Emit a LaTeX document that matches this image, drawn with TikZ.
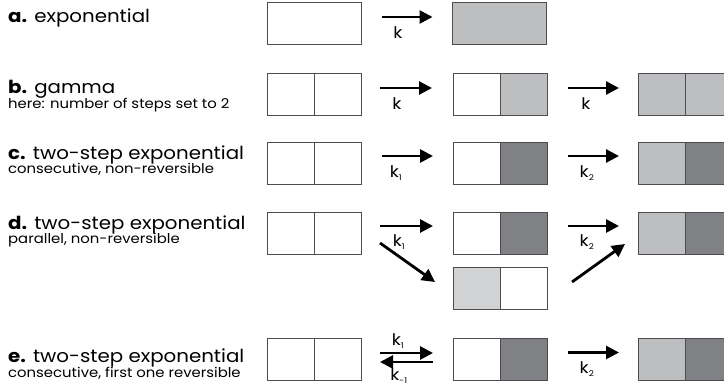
\documentclass[tikz,border=0pt]{standalone}
\usepackage{fontspec}
\setmainfont{Poppins}[FakeStretch=1.1]
\usetikzlibrary{arrows.meta}
\definecolor{bord}{HTML}{4D4D4F}
\definecolor{lg}{HTML}{BDBEC0}
\definecolor{dg}{HTML}{808184}
\definecolor{vlg}{HTML}{D1D3D4}
\begin{document}
\begin{tikzpicture}[x=1pt,y=-1pt,
  half/.style={draw=bord,line width=1pt,minimum width=47pt,minimum height=42pt,inner sep=0pt,outer sep=0pt},
  full/.style={half,minimum width=94pt},
  arr/.style={line width=2.8pt,-{Triangle[length=13pt,width=13pt]}},
  ttl/.style={anchor=base west,inner sep=0pt,font=\fontsize{18}{18}\selectfont},
  sub/.style={anchor=base west,inner sep=0pt,font=\fontsize{13.5}{13.5}\selectfont},
  klab/.style={inner sep=0pt,font=\fontsize{16}{16}\selectfont}]
\useasboundingbox (0,0) rectangle (724,388);
% texts
\node[ttl] (ta) at (8,22) {\textbf{a.} exponential};
\node[ttl] (tb) at (8,93) {\textbf{b.} gamma};
\node[sub] (sb) at (8,108) {here: number of steps set to 2};
\node[ttl] (tc) at (8,159) {\textbf{c.} two-step exponential};
\node[sub] (sc) at (8,173) {consecutive, non-reversible};
\node[ttl] (td) at (8,229) {\textbf{d.} two-step exponential};
\node[sub] (sd) at (8,243) {parallel, non-reversible};
\node[ttl] (te) at (8,362) {\textbf{e.} two-step exponential};
\node[sub] (se) at (8,377) {consecutive, first one reversible};
% row a
\node[full] (aL) at (314,23.5) {};
\node[full,fill=lg] (aM) at (499.5,23.5) {};
% row b
\node[half] (bL1) at (290.5,94) {};
\node[half] (bL2) at (337.5,94) {};
\node[half] (bM1) at (476.5,94) {};
\node[half,fill=lg] (bM2) at (523.5,94) {};
\node[half,fill=lg] (bR1) at (661.5,94) {};
\node[half,fill=lg] (bR2) at (708.5,94) {};
% row c
\node[half] (cL1) at (290.5,163.5) {};
\node[half] (cL2) at (337.5,163.5) {};
\node[half] (cM1) at (476.5,163.5) {};
\node[half,fill=dg] (cM2) at (523.5,163.5) {};
\node[half,fill=lg] (cR1) at (661.5,163.5) {};
\node[half,fill=dg] (cR2) at (708.5,163.5) {};
% row d
\node[half] (dL1) at (290.5,233) {};
\node[half] (dL2) at (337.5,233) {};
\node[half] (dM1) at (476.5,233) {};
\node[half,fill=dg] (dM2) at (523.5,233) {};
\node[half,fill=lg] (dR1) at (661.5,233) {};
\node[half,fill=dg] (dR2) at (708.5,233) {};
\node[half,fill=vlg] (dN1) at (476.5,288.5) {};
\node[half] (dN2) at (523.5,288.5) {};
% row e
\node[half] (eL1) at (290.5,359.5) {};
\node[half] (eL2) at (337.5,359.5) {};
\node[half] (eM1) at (476.5,359.5) {};
\node[half,fill=dg] (eM2) at (523.5,359.5) {};
\node[half,fill=lg] (eR1) at (661.5,359.5) {};
\node[half,fill=dg] (eR2) at (708.5,359.5) {};
% arrows
\draw[arr] ([xshift=21pt,yshift=6.5pt]aL.east) -- ([xshift=-20pt,yshift=6.5pt]aM.west);
\node[klab] (ka) at (398,33) {k};
\draw[arr] ([xshift=19pt,yshift=6pt]bL2.east) -- ([xshift=-21pt,yshift=6pt]bM1.west);
\node[klab] (kb) at (397,104) {k};
\draw[arr] ([xshift=21pt,yshift=6pt]bM2.east) -- ([xshift=-19pt,yshift=6pt]bR1.west);
\node[klab] (kb2) at (586,104) {k};
\draw[arr] ([xshift=21pt,yshift=7.5pt]cL2.east) -- ([xshift=-20pt,yshift=7.5pt]cM1.west);
\node[klab] (kc1) at (396,173) {k\textsubscript{\fontsize{8}{8}\selectfont 1}};
\draw[arr] ([xshift=21pt,yshift=7.5pt]cM2.east) -- ([xshift=-19pt,yshift=7.5pt]cR1.west);
\node[klab] (kc2) at (587,173) {k\textsubscript{\fontsize{8}{8}\selectfont 2}};
\draw[arr] ([xshift=19pt,yshift=7pt]dL2.east) -- ([xshift=-20pt,yshift=7pt]dM1.west);
\node[klab] (kd1) at (399,242) {k\textsubscript{\fontsize{8}{8}\selectfont 1}};
\draw[arr] ([xshift=19pt,yshift=-10pt]dL2.east) -- ([xshift=-18pt,yshift=6.5pt]dN1.west);
\draw[arr] ([xshift=21pt,yshift=7pt]dM2.east) -- ([xshift=-19pt,yshift=7pt]dR1.west);
\node[klab] (kd2) at (587,242) {k\textsubscript{\fontsize{8}{8}\selectfont 2}};
\draw[arr] ([xshift=25pt,yshift=6.5pt]dN2.east) -- ([xshift=-13pt,yshift=-11pt]dR1.west);
\draw[arr] ([xshift=19pt,yshift=6.5pt]eL2.east) -- ([xshift=-20pt,yshift=6.5pt]eM1.west);
\draw[arr] ([xshift=-20pt,yshift=-2.5pt]eM1.west) -- ([xshift=19pt,yshift=-2.5pt]eL2.east);
\node[klab] (ke1) at (398,341) {k\textsubscript{\fontsize{8}{8}\selectfont 1}};
\node[klab] (ke2) at (399,376) {k\textsubscript{\fontsize{8}{8}\selectfont -1}};
\draw[arr] ([xshift=21pt,yshift=7pt]eM2.east) -- ([xshift=-19pt,yshift=7pt]eR1.west);
\node[klab] (ke3) at (587,369) {k\textsubscript{\fontsize{8}{8}\selectfont 2}};
\end{tikzpicture}
\end{document}
